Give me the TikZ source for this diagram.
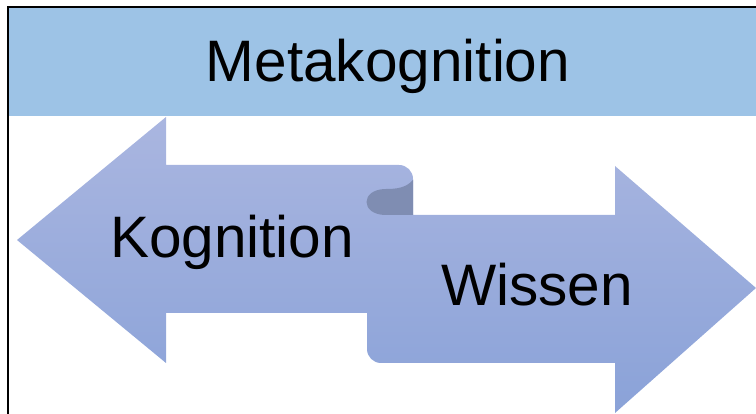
\documentclass[tikz,border=0pt]{standalone}
\usepackage{fontspec}
\setmainfont{Liberation Sans}
\usetikzlibrary{positioning}
\definecolor{headFill}{RGB}{157, 195, 230}
\definecolor{arrowTop}{RGB}{170, 182, 224}
\definecolor{arrowBottom}{RGB}{138, 162, 216}
\definecolor{foldColor}{RGB}{127, 141, 178}
\tikzset{
    big_text/.style={
        font=\fontsize{58.5}{68}\selectfont,
        text=black,
        inner sep=0pt,
        anchor=base
    },
    ribbon/.style={
        top color=arrowTop,
        bottom color=arrowBottom,
        draw=none
    },
    frame/.style={
        draw=black,
        line width=2.4pt
    }
}
\begin{document}
\begin{tikzpicture}[x=1pt, y=-1pt]
    \useasboundingbox (0,0) rectangle (756,414);
    \begin{scope}
    \clip (0,0) rectangle (756,414);
    % header band
    \fill[headFill] (8,8) rectangle (760,116);
    % double arrow with twist
    \shade[ribbon]
        (17,240) -- (166,117) -- (166,165) -- (399,165)
        arc[start angle=-90, end angle=0, radius=14] -- (413,215)
        -- (615,215) -- (615,166) -- (756,288) -- (615,413) -- (615,363)
        -- (381,363) arc[start angle=90, end angle=180, radius=14]
        -- (367,313) -- (166,313) -- (166,363) -- cycle;
    \fill[foldColor]
        (413,180) .. controls (406,188) and (396,189) .. (386,189)
        .. controls (360,189) and (360,215) .. (386,215)
        -- (413,215) -- cycle;
    \draw[frame] (8,7) rectangle (760,420);
    \end{scope}

    \node[big_text] (meta) at (388,82) {Metakognition};
    \node[big_text] (kog) at (232,258) {Kognition};
    \node[big_text] (wis) at (537,306) {Wissen};
\end{tikzpicture}
\end{document}
